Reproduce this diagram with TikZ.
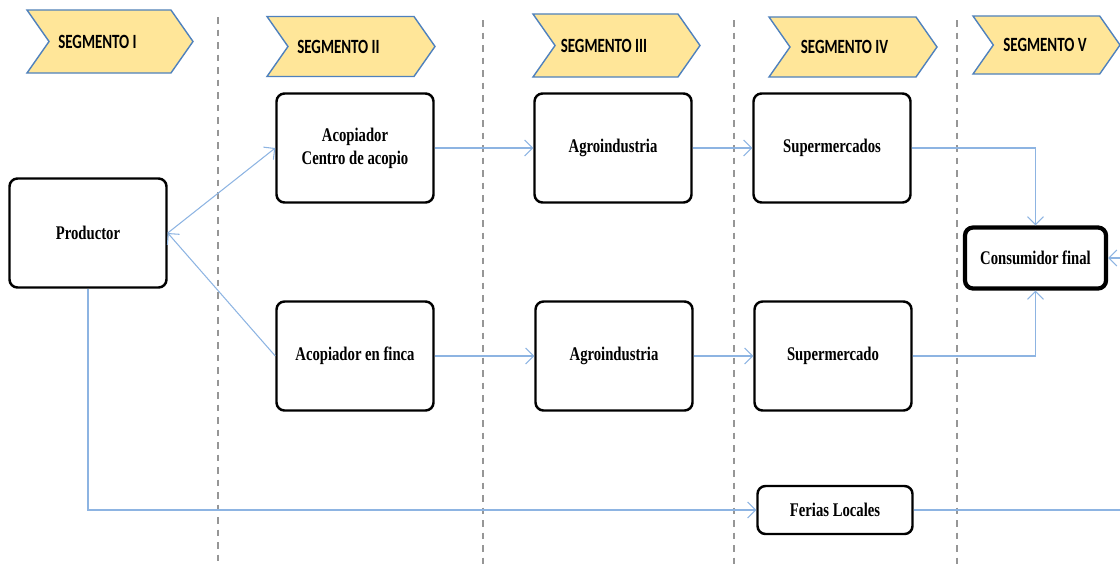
\documentclass[tikz,border=0pt]{standalone}
\usepackage{fontspec}
\setmainfont{Liberation Serif}[FakeStretch=0.76]
\newfontfamily\segfont{Carlito}[FakeStretch=0.74]
\usetikzlibrary{shapes.symbols,arrows.meta}

\definecolor{segfill}{RGB}{255,230,153}
\definecolor{segline}{RGB}{79,129,189}
\definecolor{flow}{RGB}{141,180,226}
\definecolor{divider}{RGB}{150,150,150}

\newcommand{\segtext}[2][5mm]{#2\hspace*{#1}}

\tikzset{
  segmento/.style={signal, signal to=east, signal from=west, signal pointer angle=110,
    fill=segfill, draw=segline, line width=0.8pt, inner sep=0pt,
    font=\segfont\bfseries\fontsize{11.5}{13}\selectfont},
  caja/.style={draw=black, line width=1.4pt, rounded corners=1.6mm, fill=white,
    minimum width=31.4mm, minimum height=21.8mm, align=center,
    font=\bfseries\fontsize{11}{13}\selectfont},
  final/.style={caja, line width=2.4pt, minimum width=28.2mm, minimum height=12.2mm},
  feria/.style={caja, minimum width=31mm, minimum height=9.6mm},
  flecha/.style={draw=flow, line width=0.6pt, -{Straight Barb[length=1.6mm, width=3.2mm]}},
  division/.style={draw=divider, line width=0.8pt, dash pattern=on 1.3mm off 1.2mm}
}

\begin{document}
\begin{tikzpicture}[x=0.2mm, y=-0.2mm]
\useasboundingbox (0,0) rectangle (1120,565);
\clip (0,0) rectangle (1120,565);

% dividers
\foreach \xd/\yd in {218/17, 483/20, 734/20, 957/20}
  \draw[division] (\xd,\yd) -- (\xd,565);

% segment headers
\node[segmento, minimum width=33.2mm, minimum height=12.6mm] (segI)   at (110,41.5)  {\segtext{SEGMENTO I}};
\node[segmento, minimum width=33.6mm, minimum height=12mm]   (segII)  at (351,46.5)  {\segtext{SEGMENTO II}};
\node[segmento, minimum width=33.4mm, minimum height=12.6mm] (segIII) at (616.5,45.5) {\segtext{SEGMENTO III}};
\node[segmento, minimum width=33.6mm, minimum height=12mm]   (segIV)  at (853,47)    {\segtext[3.4mm]{SEGMENTO IV}};
\node[segmento, minimum width=29.4mm, minimum height=11.6mm] (segV)   at (1046.5,45) {\segtext[0.6mm]{SEGMENTO V}};

% actors
\node[caja] (productor) at (88,233) {Productor};
\node[caja] (acopio) at (355,148) {Acopiador\\Centro de acopio};
\node[caja] (finca) at (355,356) {Acopiador en finca};
\node[caja] (agroA) at (613,148) {Agroindustria};
\node[caja] (agroB) at (614,356) {Agroindustria};
\node[caja] (superA) at (832,148) {Supermercados};
\node[caja] (superB) at (833,356) {Supermercado};
\node[final] (consumidor) at (1035.5,258) {Consumidor final};
\node[feria] (ferias) at (835,510) {Ferias Locales};
\coordinate (borde) at (1140,510);

% flows
\draw[flecha] (productor.east) -- (acopio.west);
\draw[flecha] (finca.west) -- (productor.east);
\draw[flecha] (acopio) -- (agroA);
\draw[flecha] (agroA) -- (superA);
\draw[flecha] (finca) -- (agroB);
\draw[flecha] (agroB) -- (superB);
\draw[flecha] (superA.east) -| (consumidor.north);
\draw[flecha] (superB.east) -| (consumidor.south);
\draw[flecha] (productor.south) |- (ferias.west);
\draw[flecha] (ferias.east) -- (borde) |- (consumidor.east);
\end{tikzpicture}
\end{document}
